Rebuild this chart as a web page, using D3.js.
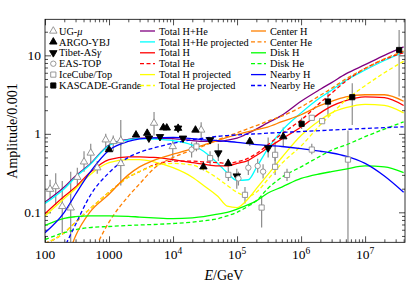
<!DOCTYPE html>
<html>
<head>
<meta charset="utf-8">
<script src="https://cdn.jsdelivr.net/npm/d3@7/dist/d3.min.js"></script>
<style>
  body { margin: 0; background: #fff; }
  svg text { font-family: "Liberation Serif", "DejaVu Serif", serif; fill: #000; }
</style>
</head>
<body>
<svg id="chart"></svg>
<script>
// Energy grid (GeV) shared by all model curves
const energy = [100, 200, 300, 500, 1e3, 2e3, 3e3, 5e3, 1e4, 2e4, 3e4, 5e4, 7e4, 1e5, 1.5e5, 2e5, 3e5, 5e5, 1e6, 2e6, 3e6, 5e6, 1e7, 2e7, 4e7];

// Model curves, amplitude / 0.001
const totalHHe     = [0.135, 0.21, 0.29, 0.41, 0.72, 0.85, 0.88, 0.88, 0.87, 0.82, 0.8, 0.8, 0.83, 0.88, 1.02, 1.15, 1.38, 1.72, 2.6, 3.7, 4.5, 5.8, 7.6, 10, 12.8];
const totalHHeProj = [0.13, 0.2, 0.28, 0.4, 0.71, 0.84, 0.87, 0.86, 0.82, 0.72, 0.6, 0.42, 0.32, 0.255, 0.26, 0.37, 0.64, 1.1, 1.85, 2.9, 3.6, 4.8, 6.5, 8.6, 11];
const totalH       = [0.096, 0.16, 0.21, 0.32, 0.47, 0.51, 0.51, 0.5, 0.47, 0.43, 0.41, 0.39, 0.39, 0.42, 0.46, 0.53, 0.66, 0.86, 1.22, 1.85, 2.25, 2.65, 2.95, 2.9, 2.3];
const totalHe      = [0.04, 0.055, 0.075, 0.11, 0.18, 0.28, 0.33, 0.4, 0.45, 0.45, 0.44, 0.43, 0.42, 0.44, 0.49, 0.56, 0.72, 1.0, 1.5, 2.5, 3.3, 4.7, 6.8, 8.9, 10.8];
const totalHProj   = [0.09, 0.15, 0.2, 0.3, 0.43, 0.47, 0.47, 0.44, 0.37, 0.28, 0.22, 0.16, 0.12, 0.115, 0.15, 0.2, 0.3, 0.5, 0.95, 1.5, 1.85, 2.15, 2.38, 2.3, 1.85];
const totalHeProj  = [0.04, 0.055, 0.075, 0.11, 0.18, 0.28, 0.33, 0.39, 0.42, 0.4, 0.35, 0.27, 0.22, 0.18, 0.16, 0.18, 0.26, 0.42, 0.7, 1.3, 1.8, 2.7, 4.1, 6.0, 8.4];
const centerH      = [0.004, 0.02, 0.05, 0.1, 0.17, 0.3, 0.38, 0.46, 0.55, 0.65, 0.72, 0.82, 0.9, 0.98, 1.07, 1.13, 1.22, 1.43, 1.75, 2.3, 2.6, 2.95, 3.15, 3.15, 2.6];
const centerHe     = [0.0005, 0.004, 0.01, 0.025, 0.075, 0.16, 0.23, 0.36, 0.5, 0.62, 0.7, 0.84, 0.93, 1.03, 1.17, 1.27, 1.45, 1.68, 2.2, 3.1, 3.8, 5.0, 6.8, 9.0, 11.3];
const diskH        = [0.068, 0.084, 0.088, 0.09, 0.09, 0.089, 0.087, 0.085, 0.083, 0.085, 0.088, 0.095, 0.1, 0.11, 0.125, 0.14, 0.175, 0.21, 0.27, 0.31, 0.33, 0.355, 0.39, 0.38, 0.32];
const diskHe       = [0.045, 0.055, 0.06, 0.064, 0.066, 0.068, 0.069, 0.07, 0.072, 0.075, 0.078, 0.083, 0.09, 0.1, 0.12, 0.14, 0.2, 0.28, 0.38, 0.52, 0.62, 0.72, 0.92, 1.15, 1.42];
const nearbyH      = [0.055, 0.1, 0.17, 0.32, 0.62, 0.8, 0.86, 0.89, 0.9, 0.87, 0.84, 0.82, 0.8, 0.78, 0.75, 0.73, 0.71, 0.69, 0.65, 0.6, 0.57, 0.52, 0.42, 0.29, 0.18];
const nearbyHe     = [0.008, 0.035, 0.07, 0.16, 0.32, 0.5, 0.58, 0.66, 0.76, 0.84, 0.88, 0.93, 0.95, 0.97, 0.99, 1.0, 1.02, 1.04, 1.07, 1.1, 1.12, 1.14, 1.17, 1.2, 1.23];

// Measurements: energy, amplitude, error low, error high
const ugE  = [120, 147, 186, 252, 320, 407, 518, 655, 888, 1164, 1526, 1526, 5050, 9900, 27500];
const ugA  = [0.197, 0.213, 0.119, 0.114, 0.28, 0.44, 0.57, 0.37, 0.84, 0.8, 0.82, 0.42, 1.37, 0.69, 1.12];
const ugLo = [0.145, 0.125, 0.054, 0.042, 0.22, 0.33, 0.42, 0.31, 0.62, 0.6, 0.7, 0.22, 0.95, 0.45, 0.8];
const ugHi = [0.26, 0.315, 0.25, 0.33, 0.37, 0.6, 0.75, 0.45, 1.0, 0.95, 0.95, 1.5, 1.9, 0.85, 1.4];

const argoE  = [1000, 2640, 3950, 7050, 7980, 12000, 22400, 29800, 72800, 158000, 527000];
const argoA  = [0.63, 0.97, 1.02, 1.2, 1.19, 1.18, 1.12, 0.38, 0.42, 0.8, 0.92];
const argoLo = [0.6, 0.93, 0.98, 1.15, 1.14, 1.12, 1.06, 0.34, 0.37, 0.7, 0.7];
const argoHi = [0.67, 1.02, 1.07, 1.25, 1.24, 1.24, 1.18, 0.43, 0.48, 0.9, 1.2];

const tibetE  = [4200, 6250, 12000, 14300, 37900, 51000, 99000, 306000];
const tibetA  = [0.88, 0.92, 1.18, 0.88, 0.84, 0.57, 0.29, 0.66];
const tibetLo = [0.84, 0.88, 1.12, 0.84, 0.78, 0.45, 0.2, 0.5];
const tibetHi = [0.92, 0.96, 1.24, 0.92, 0.9, 0.75, 0.36, 0.9];

const easE  = [19500, 105000, 150000, 210000, 255000];
const easA  = [0.63, 0.27, 0.37, 0.39, 0.33];
const easLo = [0.5, 0.22, 0.3, 0.32, 0.27];
const easHi = [0.78, 0.33, 0.45, 0.48, 0.41];

const iceE  = [23200, 37900, 73000, 133000, 242000, 393000, 393000, 603000, 1.47e6, 1.47e6, 2.13e6, 5.4e6];
const iceA  = [0.69, 0.49, 0.3, 0.167, 0.115, 0.54, 0.38, 0.3, 0.63, 1.6, 1.45, 0.47];
const iceLo = [0.6, 0.4, 0.25, 0.13, 0.064, 0.45, 0.3, 0.25, 0.55, 1.5, 1.35, 0.03];
const iceHi = [0.8, 0.6, 0.37, 0.21, 0.16, 0.8, 0.5, 0.36, 0.75, 1.7, 1.55, 1.1];

const kasE  = [1.02e6, 2.63e6, 6.3e6, 3.4e7];
const kasA  = [1.34, 2.58, 2.93, 11.7];
const kasLo = [1.15, 1.66, 1.3, 2.98];
const kasHi = [1.6, 3.6, 4.4, 21];

// Tick labels
const xLabels = [["100", null], ["1000", null], ["10", "4"], ["10", "5"], ["10", "6"], ["10", "7"]];
const yLabels = ["0.1", "1", "10"];

// Set up dimensions
const width = 412;
const height = 285;
const mLeft = 45, mRight = 405, mTop = 19.3, mBottom = 242.3;

const svg = d3.select("#chart").attr("width", width).attr("height", height);
svg.append("rect").attr("width", width).attr("height", height).attr("fill", "#fff");

// Create scales
const x = d3.scaleLog().domain([100, 4.2e7]).range([mLeft, mRight]);
const y = d3.scaleLog().domain([0.0415, 28.8]).range([mBottom, mTop]);

svg.append("clipPath").attr("id", "plot-clip")
  .append("rect").attr("x", mLeft).attr("y", mTop)
  .attr("width", mRight - mLeft).attr("height", mBottom - mTop);

// Ticks on all four sides, pointing inward
const xMajor = [], xMinor = [];
for (let p = 2; p <= 7; p++) {
  for (let m = 1; m <= 9; m++) {
    const v = m * Math.pow(10, p);
    if (v > 4.2e7) continue;
    (m === 1 ? xMajor : xMinor).push(v);
  }
}
const yMajor = [0.1, 1, 10], yMinor = [];
for (let p = -2; p <= 1; p++) {
  for (let m = 2; m <= 9; m++) {
    const v = m * Math.pow(10, p);
    if (v >= 0.0415 && v <= 28.8) yMinor.push(v);
  }
}

const axes = svg.append("g").attr("class", "axes");
function tickAxis(axisFn, scale, values, size, transform) {
  const g = axes.append("g").attr("transform", transform)
    .call(axisFn(scale).tickValues(values).tickSize(size).tickFormat(""));
  g.select(".domain").remove();
  g.selectAll("line").attr("stroke", "#000").attr("stroke-width", 0.7);
}
tickAxis(d3.axisBottom, x, xMajor, -6, `translate(0,${mBottom})`);
tickAxis(d3.axisBottom, x, xMinor, -3, `translate(0,${mBottom})`);
tickAxis(d3.axisTop, x, xMajor, -6, `translate(0,${mTop})`);
tickAxis(d3.axisTop, x, xMinor, -3, `translate(0,${mTop})`);
tickAxis(d3.axisLeft, y, yMajor, -6, `translate(${mLeft},0)`);
tickAxis(d3.axisLeft, y, yMinor, -3, `translate(${mLeft},0)`);
tickAxis(d3.axisRight, y, yMajor, -6, `translate(${mRight},0)`);
tickAxis(d3.axisRight, y, yMinor, -3, `translate(${mRight},0)`);

// Tick labels
xMajor.forEach((v, i) => {
  const t = axes.append("text").attr("x", x(v)).attr("y", 259)
    .attr("text-anchor", "middle").attr("font-size", 13.5).text(xLabels[i][0]);
  if (xLabels[i][1]) {
    t.append("tspan").attr("dy", -5).attr("font-size", 9.5).text(xLabels[i][1]);
  }
});
yMajor.forEach((v, i) => {
  axes.append("text").attr("x", 41).attr("y", y(v) + 4.5)
    .attr("text-anchor", "end").attr("font-size", 13.5).text(yLabels[i]);
});

// Axis titles
svg.append("text").attr("transform", `translate(17,131) rotate(-90)`)
  .attr("text-anchor", "middle").attr("font-size", 14).text("Amplitude/0.001");
const xt = svg.append("text").attr("x", 224).attr("y", 280)
  .attr("text-anchor", "middle").attr("font-size", 14);
xt.append("tspan").attr("font-style", "italic").text("E");
xt.append("tspan").text("/GeV");

// Model curves
const curves = [
  { name: "Total H+He", values: totalHHe, color: "#800080", dash: null },
  { name: "Total H+He projected", values: totalHHeProj, color: "#00ffff", dash: null },
  { name: "Total H", values: totalH, color: "#ff0000", dash: null },
  { name: "Total He", values: totalHe, color: "#ff0000", dash: "4,2.5" },
  { name: "Total H projected", values: totalHProj, color: "#ffff00", dash: null },
  { name: "Total He projected", values: totalHeProj, color: "#ffff00", dash: "4,2.5" },
  { name: "Center H", values: centerH, color: "#ff8000", dash: null },
  { name: "Center He", values: centerHe, color: "#ff8000", dash: "4,2.5" },
  { name: "Disk H", values: diskH, color: "#00ff00", dash: null },
  { name: "Disk He", values: diskHe, color: "#00ff00", dash: "4,2.5" },
  { name: "Nearby H", values: nearbyH, color: "#0000ff", dash: null },
  { name: "Nearby He", values: nearbyHe, color: "#0000ff", dash: "4,2.5" }
];

const line = d3.line()
  .x((d, i) => x(energy[i]))
  .y((d) => y(d))
  .curve(d3.curveMonotoneX);

const plot = svg.append("g").attr("clip-path", "url(#plot-clip)");

// Data sets
const sets = [
  { name: "UG-\u03bc", E: ugE, A: ugA, lo: ugLo, hi: ugHi, sym: "triUp", filled: false },
  { name: "ARGO-YBJ", E: argoE, A: argoA, lo: argoLo, hi: argoHi, sym: "triUp", filled: true },
  { name: "Tibet-AS\u03b3", E: tibetE, A: tibetA, lo: tibetLo, hi: tibetHi, sym: "triDown", filled: true },
  { name: "EAS-TOP", E: easE, A: easA, lo: easLo, hi: easHi, sym: "circle", filled: false },
  { name: "IceCube/Top", E: iceE, A: iceA, lo: iceLo, hi: iceHi, sym: "square", filled: false },
  { name: "KASCADE-Grande", E: kasE, A: kasA, lo: kasLo, hi: kasHi, sym: "square", filled: true }
];

// Error bars behind curves
sets.forEach((s) => {
  plot.append("g").selectAll("line").data(s.E).enter().append("line")
    .attr("x1", (d) => x(d)).attr("x2", (d) => x(d))
    .attr("y1", (d, i) => y(s.lo[i])).attr("y2", (d, i) => y(s.hi[i]))
    .attr("stroke", "#8c8c8c").attr("stroke-width", 1.2);
});

curves.forEach((c) => {
  plot.append("path").datum(c.values)
    .attr("d", line)
    .attr("fill", "none")
    .attr("stroke", c.color)
    .attr("stroke-width", 1.3)
    .attr("stroke-dasharray", c.dash);
});

function drawMarker(g, sym, filled, cx, cy) {
  const stroke = filled ? "#000" : "#8c8c8c";
  const fill = filled ? "#000" : "#fff";
  if (sym === "circle") {
    g.append("circle").attr("cx", cx).attr("cy", cy).attr("r", 2.7)
      .attr("fill", fill).attr("stroke", stroke).attr("stroke-width", 0.9);
    return;
  }
  const type = sym === "square" ? d3.symbolSquare : d3.symbolTriangle;
  const size = sym === "square" ? 27 : 24;
  const rot = sym === "triDown" ? 180 : 0;
  g.append("path").attr("d", d3.symbol().type(type).size(size)())
    .attr("transform", `translate(${cx},${cy}) rotate(${rot})`)
    .attr("fill", fill).attr("stroke", stroke).attr("stroke-width", 0.9);
}

sets.forEach((s) => {
  const g = plot.append("g");
  s.E.forEach((e, i) => drawMarker(g, s.sym, s.filled, x(e), y(s.A[i])));
});

// Frame
svg.append("rect").attr("x", mLeft).attr("y", mTop)
  .attr("width", mRight - mLeft).attr("height", mBottom - mTop)
  .attr("fill", "none").attr("stroke", "#000").attr("stroke-width", 0.8);

// Legend
const rowY = (i) => 31 + i * 10.9;
const legend = svg.append("g").attr("font-size", 10.3);
sets.forEach((s, i) => {
  drawMarker(legend, s.sym, s.filled, 53.3, rowY(i));
  const t = legend.append("text").attr("x", 59).attr("y", rowY(i) + 3.6);
  if (s.name === "UG-\u03bc") {
    t.append("tspan").text("UG-");
    t.append("tspan").attr("font-style", "italic").text("\u03bc");
  } else if (s.name === "Tibet-AS\u03b3") {
    t.append("tspan").text("Tibet-AS");
    t.append("tspan").attr("font-style", "italic").text("\u03b3");
  } else {
    t.text(s.name);
  }
});
curves.forEach((c, i) => {
  const col = i < 6 ? 0 : 1;
  const row = i % 6;
  const x0 = col === 0 ? 140 : 251;
  legend.append("line")
    .attr("x1", x0).attr("x2", x0 + 15)
    .attr("y1", rowY(row)).attr("y2", rowY(row))
    .attr("stroke", c.color).attr("stroke-width", 1.3)
    .attr("stroke-dasharray", c.dash);
  legend.append("text").attr("x", x0 + 19).attr("y", rowY(row) + 3.6).text(c.name);
});
</script>
</body>
</html>
